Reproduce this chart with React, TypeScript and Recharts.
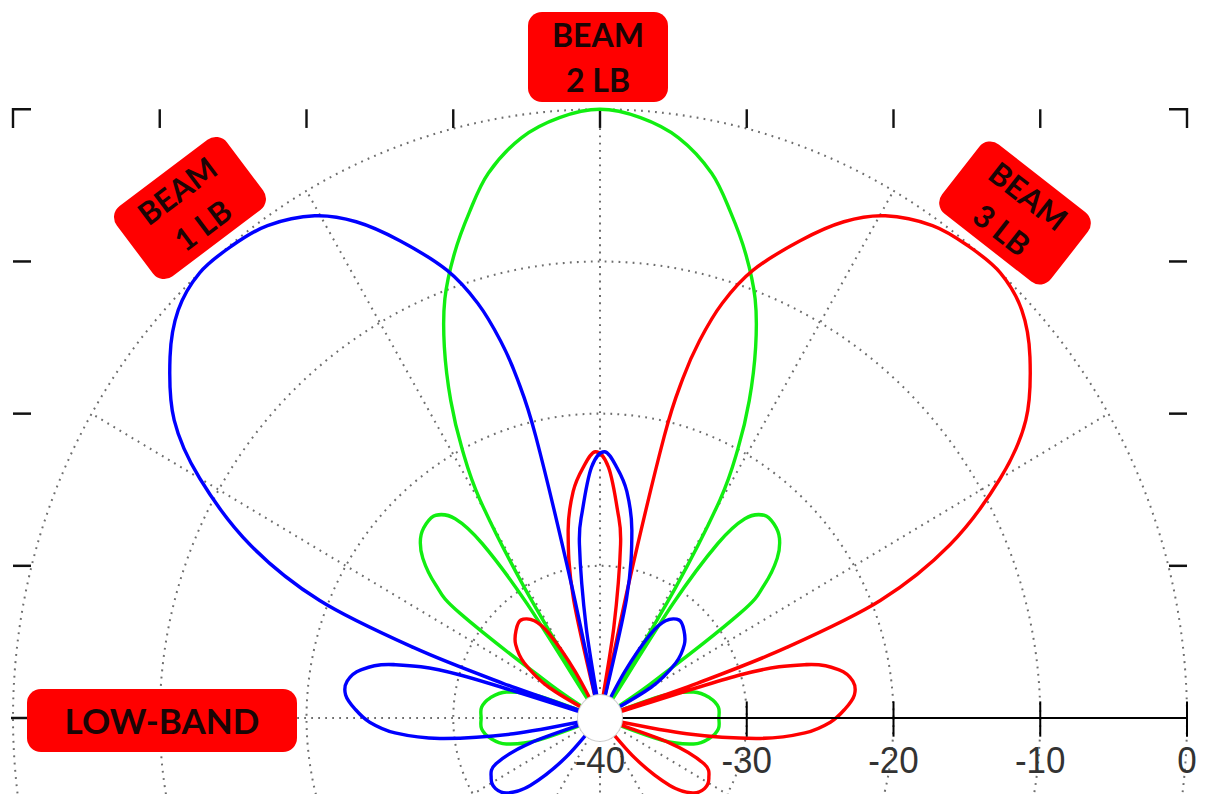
import React from 'react';
import {
  RadarChart,
  Radar,
  PolarGrid,
  PolarAngleAxis,
  PolarRadiusAxis,
  Customized,
} from 'recharts';

// azimuth in degrees (0 = along the axis to the right, 90 = broadside), gain in dB
const BEAM1_DEG = [25, 30, 35, 40, 45, 50, 55, 58, 61, 64, 74, 77, 80, 83, 86, 89, 92, 95, 97, 99, 101, 102.5, 103.3, 104.2, 105.3, 107, 109.5, 113.5, 117, 120.5, 125, 129, 133, 137, 141, 146, 150, 154.5, 158, 160, 161, 162, 163.5, 166, 169, 172, 175, 178, 181, 184, 187, 190, 193, 196, 199, 203, 208, 213, 218, 223, 228, 232];
const BEAM1_DB = [-40, -36, -33.7, -32.5, -31.9, -31.6, -32.2, -33.5, -36.5, -40, -40, -32, -27.5, -25, -23.5, -22.5, -23.5, -26.3, -28.5, -34, -40, -31, -21, -17, -14.3, -11.5, -8.8, -5.8, -3.4, -1.7, -0.5, -0.1, 0, -0.7, -2.3, -5, -8.5, -13.6, -19.4, -26.5, -33, -40, -30, -25.5, -23.4, -22.6, -22.6, -23.3, -24.3, -26, -29, -34, -40, -40, -35, -32.3, -31.6, -31.5, -32, -33.5, -36.5, -40];

const BEAM2_DEG = [0, 5, 10, 15, 19, 23, 31, 33, 35.8, 38, 41, 44, 47, 50, 53, 55, 56.5, 58, 59, 60.3, 62, 64, 66.5, 69, 72, 75, 78, 82, 86, 90, 94, 98, 102, 105, 108, 111, 113.5, 116, 118, 119.7, 121, 122, 123.5, 125, 127, 130, 133, 136, 139, 142, 144.2, 147, 149, 157, 161, 165, 170, 175, 180, 185, 190, 195, 199, 203, 337, 341, 345, 350, 355];
const BEAM2_DB = [-31.9, -31.9, -32.4, -33.4, -35.5, -40, -40, -36, -28.2, -25.8, -24, -23, -22.6, -22.6, -23.6, -26, -31, -40, -30, -23.5, -20, -16.8, -13.4, -10.5, -7.9, -5.6, -3.4, -1.5, -0.45, 0, -0.45, -1.5, -3.4, -5.6, -7.9, -10.5, -13.4, -16.8, -20, -23.5, -30, -40, -31, -26, -23.6, -22.6, -22.6, -23, -24, -25.8, -28.2, -36, -40, -40, -35.5, -33.4, -32.4, -31.9, -31.9, -31.9, -32.4, -33.4, -35.5, -40, -40, -35.5, -33.4, -32.4, -31.9];

const BEAM3_DEG = [2, 5, 8, 11, 14, 16.5, 18, 19, 20, 22, 25.5, 30, 34, 39, 43, 47, 51, 55, 59.5, 63, 66.5, 70.5, 73, 74.7, 75.8, 76.7, 77.5, 79, 81, 83, 85, 88, 91, 94, 97, 100, 103, 106, 116, 119, 122, 125, 130, 135, 140, 145, 150, 155, 308, 312, 317, 322, 327, 332, 337, 341, 344, 347, 350, 353, 356, 359];
const BEAM3_DB = [-23.3, -22.6, -22.6, -23.4, -25.5, -30, -40, -33, -26.5, -19.4, -13.6, -8.5, -5, -2.3, -0.7, 0, -0.1, -0.5, -1.7, -3.4, -5.8, -8.8, -11.5, -14.3, -17, -21, -31, -40, -34, -28.5, -26.3, -23.5, -22.5, -23.5, -25, -27.5, -32, -40, -40, -36.5, -33.5, -32.2, -31.6, -31.9, -32.5, -33.7, -36, -40, -40, -36.5, -33.5, -32, -31.5, -31.6, -32.3, -35, -40, -40, -34, -29, -26, -24.3];

const RADIUS_DOMAIN = [-40, 0];
const GRID_ANGLES = [0, 30, 60, 90, 120, 150, 180, 210, 240, 270, 300, 330];

const CX = 600;
const CY = 718;
const R = 587;
const STRETCH = 1.037;

const beams = [
  { key: 'beam2', deg: BEAM2_DEG, db: BEAM2_DB, color: '#11ee11' },
  { key: 'beam3', deg: BEAM3_DEG, db: BEAM3_DB, color: '#ff0000' },
  { key: 'beam1', deg: BEAM1_DEG, db: BEAM1_DB, color: '#0000ff' },
];

const angles = Array.from(new Set(beams.flatMap((b) => b.deg))).sort((a, b) => a - b);
const data = angles.map((deg) => {
  const row: Record<string, number | null> = { deg };
  beams.forEach((b) => {
    const i = b.deg.indexOf(deg);
    row[b.key] = i >= 0 ? b.db[i] : null;
  });
  return row;
});

// closed catmull-rom through the polar points the chart computed
function smoothClosed(pts: { x: number; y: number }[]) {
  const n = pts.length;
  let d = `M${pts[0].x},${pts[0].y}`;
  for (let i = 0; i < n; i++) {
    const p0 = pts[(i - 1 + n) % n];
    const p1 = pts[i];
    const p2 = pts[(i + 1) % n];
    const p3 = pts[(i + 2) % n];
    const c1x = p1.x + (p2.x - p0.x) / 6;
    const c1y = p1.y + (p2.y - p0.y) / 6;
    const c2x = p2.x - (p3.x - p1.x) / 6;
    const c2y = p2.y - (p3.y - p1.y) / 6;
    d += ` C${c1x},${c1y} ${c2x},${c2y} ${p2.x},${p2.y}`;
  }
  return d + 'Z';
}

const lobeShape = (color: string) => (props: any) => {
  const pts = (props.points || []).filter(
    (p: any) => p.value != null && Number.isFinite(p.x) && Number.isFinite(p.y)
  );
  if (pts.length < 3) return <g />;
  return <path d={smoothClosed(pts)} fill="none" stroke={color} strokeWidth={3.4} strokeLinejoin="round" />;
};

const RadiusTick = (props: any) => {
  const { x, y, payload } = props;
  return (
    <g>
      <line x1={x} y1={y - 16} x2={x} y2={y + 18} stroke="#000" strokeWidth={2} />
      <text
        x={x}
        y={y + 53}
        textAnchor="middle"
        fontFamily="'Liberation Sans', Arial, sans-serif"
        fontSize={35}
        fill="#333"
      >
        {payload.value}
      </text>
    </g>
  );
};

function Frame() {
  const step = R / 4;
  const left = CX - R;
  const right = CX + R;
  const top = CY - R;
  const len = 18;
  const marks: React.ReactNode[] = [];
  for (let k = 1; k < 8; k++) {
    const x = left + k * step;
    marks.push(<line key={`t${k}`} x1={x} y1={top} x2={x} y2={top + len} />);
  }
  for (let k = 1; k < 4; k++) {
    const y = CY - k * step;
    marks.push(<line key={`l${k}`} x1={left} y1={y} x2={left + len} y2={y} />);
    marks.push(<line key={`r${k}`} x1={right - len} y1={y} x2={right} y2={y} />);
  }
  marks.push(<line key="l0" x1={left - 2} y1={CY} x2={left + len - 2} y2={CY} />);
  return (
    <g stroke="#111" strokeWidth={2.4} fill="none">
      {marks}
      <path d={`M${left + len},${top} H${left} V${top + len}`} />
      <path d={`M${right - len},${top} H${right} V${top + len}`} />
    </g>
  );
}

const boxes = [
  { lines: ['BEAM', '2 LB'], cx: 598, cy: 57, w: 140, h: 90, rot: 0, size: 32 },
  { lines: ['BEAM', '1 LB'], cx: 190, cy: 208, w: 138, h: 88, rot: -37, size: 31 },
  { lines: ['BEAM', '3 LB'], cx: 1015, cy: 213, w: 138, h: 88, rot: 38, size: 31 },
  { lines: ['LOW-BAND'], cx: 162, cy: 720, w: 270, h: 63, rot: 0, size: 35 },
];

export default function App() {
  return (
    <div
      style={{
        position: 'absolute',
        left: 0,
        top: 0,
        width: 1210,
        height: 794,
        overflow: 'hidden',
        background: '#fff',
      }}
    >
      <div style={{ transform: `scaleY(${STRETCH})`, transformOrigin: `${CX}px ${CY}px` }}>
        <RadarChart
          width={1210}
          height={1320}
          data={data}
          cx={CX}
          cy={CY}
          outerRadius={R}
          startAngle={0}
          endAngle={360}
          margin={{ top: 0, right: 0, bottom: 0, left: 0 }}
        >
          <PolarGrid
            gridType="circle"
            polarAngles={GRID_ANGLES}
            stroke="#6e6e6e"
            strokeWidth={2}
            strokeDasharray="1.8 5.2"
          />
          <PolarAngleAxis dataKey="deg" type="number" domain={[0, 360]} tick={false} axisLine={false} />
          <PolarRadiusAxis
            angle={0}
            type="number"
            domain={RADIUS_DOMAIN}
            tickCount={5}
            allowDataOverflow
            axisLine={{ stroke: '#000', strokeWidth: 2 }}
            tickLine={false}
            tick={<RadiusTick />}
          />
          <Customized component={Frame} />
          {beams.map((b) => (
            <Radar
              key={b.key}
              dataKey={b.key}
              stroke={b.color}
              fill="none"
              dot={false}
              isAnimationActive={false}
              shape={lobeShape(b.color)}
            />
          ))}
        </RadarChart>
      </div>
      <div
        style={{
          position: 'absolute',
          left: CX - 22,
          top: CY - 23,
          width: 44,
          height: 46,
          borderRadius: '50%',
          background: '#fff',
          boxShadow: '0 0 0 1px #cfcfcf',
        }}
      />
      {boxes.map((b, i) => (
        <div
          key={i}
          style={{
            position: 'absolute',
            left: b.cx - b.w / 2,
            top: b.cy - b.h / 2,
            width: b.w,
            height: b.h,
            background: '#ff0000',
            borderRadius: 14,
            transform: `rotate(${b.rot}deg)`,
            display: 'flex',
            flexDirection: 'column',
            alignItems: 'center',
            justifyContent: 'center',
            fontFamily: "Lato, 'Open Sans', sans-serif",
            fontWeight: 700,
            fontSize: b.size,
            lineHeight: `${Math.round(b.size * 1.4)}px`,
            color: '#1a0505',
          }}
        >
          {b.lines.map((t) => (
            <div key={t}>{t}</div>
          ))}
        </div>
      ))}
    </div>
  );
}
